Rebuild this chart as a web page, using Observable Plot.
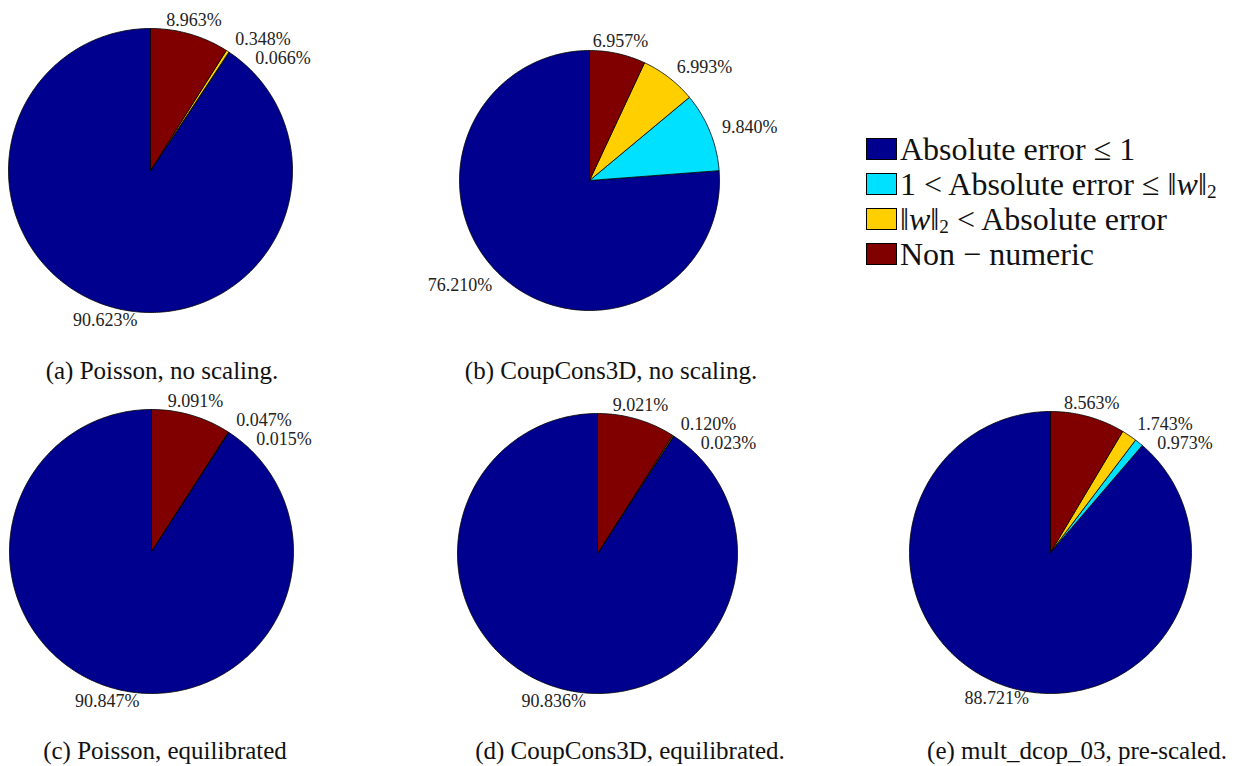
<!DOCTYPE html>
<html><head><meta charset="utf-8">
<script src="https://cdn.jsdelivr.net/npm/d3@7"></script>
<script src="https://cdn.jsdelivr.net/npm/@observablehq/plot@0.6"></script>
<style>
body{margin:0;background:#fff;}
#fig{position:relative;width:1259px;height:766px;overflow:hidden;font-family:"Liberation Serif",serif;color:#111;}
.pie{position:absolute;}
.pie svg{overflow:visible;}
.cap{position:absolute;font-family:"Liberation Serif",serif;font-size:25px;transform:translate(-50%,-50%);white-space:nowrap;}
.legend{position:absolute;left:866px;top:131px;font-family:"Liberation Serif",serif;font-size:32px;line-height:1;}
.legend .row{display:flex;align-items:center;height:35px;white-space:nowrap;}
.legend sub{font-size:60%;line-height:0;vertical-align:-0.15em;}
.sw{width:29px;height:20px;border:1px solid #000;margin-right:3px;flex:none;}
</style></head><body><div id="fig"></div>
<script>
// Categories in legend order (drawn counter-clockwise from 12 o'clock, MATLAB style)
const categories = ["Absolute error ≤ 1", "1 < Absolute error ≤ ‖w‖₂", "‖w‖₂ < Absolute error", "Non − numeric"];
const legendHtml = ["Absolute error ≤ 1", "1 &lt; Absolute error ≤ ‖<i>w</i>‖<sub>2</sub>", "‖<i>w</i>‖<sub>2</sub> &lt; Absolute error", "Non − numeric"];
const colors = ["#00008F", "#00E0FF", "#FFCF00", "#800000"];

// Percentages per panel, in category order
const pieA = [90.623, 0.066, 0.348, 8.963];
const pieB = [76.210, 9.840, 6.993, 6.957];
const pieC = [90.847, 0.015, 0.047, 9.091];
const pieD = [90.836, 0.023, 0.120, 9.021];
const pieE = [88.721, 0.973, 1.743, 8.563];

const captions = ["(a) Poisson, no scaling.", "(b) CoupCons3D, no scaling.", "(c) Poisson, equilibrated", "(d) CoupCons3D, equilibrated.", "(e) mult_dcop_03, pre-scaled."];

// layout (pixels): pie centre, radius, caption centre
const panels = [
  {values: pieA, cx: 150, cy: 170, r: 142, capX: 162, capY: 371},
  {values: pieB, cx: 589, cy: 180, r: 130, capX: 611, capY: 371},
  {values: pieC, cx: 151, cy: 551, r: 142, capX: 165, capY: 751},
  {values: pieD, cx: 597, cy: 553, r: 140, capX: 630, capY: 751},
  {values: pieE, cx: 1050, cy: 552, r: 141, capX: 1077, capY: 751}
];

const fig = document.getElementById("fig");
const fmt = d3.format(".3f");

panels.forEach((p, pi) => {
  const total = d3.sum(p.values);
  const poly = [];
  const labels = [];
  let t0 = Math.PI / 2;
  p.values.forEach((v, i) => {
    const frac = v / total;
    const n = Math.max(2, Math.ceil(frac * 400));
    poly.push({k: i, cat: categories[i], x: 0, y: 0});
    for (let j = 0; j <= n; j++) {
      const t = t0 + frac * 2 * Math.PI * j / n;
      poly.push({k: i, cat: categories[i], x: Math.cos(t), y: Math.sin(t)});
    }
    poly.push({k: i, cat: categories[i], x: 0, y: 0});
    const tm = t0 + frac * Math.PI;
    const c = Math.cos(tm);
    labels.push({
      text: fmt(v) + "%",
      x: 1.1 * Math.cos(tm), y: 1.1 * Math.sin(tm),
      anchor: Math.abs(c) < 0.4 ? "middle" : (c > 0 ? "start" : "end")
    });
    t0 += frac * 2 * Math.PI;
  });
  // simple collision avoidance: walk labels clockwise, push crowded ones down-right
  const px = 1 / p.r;
  const cw = labels.slice().reverse();
  for (let i = 1; i < cw.length; i++) {
    const a = cw[i - 1], b = cw[i];
    const dx = (b.x - a.x) / px, dy = (b.y - a.y) / px;
    if (Math.abs(dy) < 16 && Math.abs(dx) < 50) {
      b.x = a.x + 20 * px;
      b.y = a.y - 19 * px;
    }
  }
  const W = 300, half = (W / 2) * px;
  const textOpts = {x: "x", y: "y", text: "text", fontSize: 18, fontFamily: "Liberation Serif", fill: "#222"};
  const chart = Plot.plot({
    width: W, height: W, margin: 0,
    style: {fontFamily: "Liberation Serif", background: "transparent", overflow: "visible"},
    x: {domain: [-half, half], axis: null},
    y: {domain: [-half, half], axis: null},
    color: {domain: categories, range: colors},
    marks: [
      Plot.line(poly, {x: "x", y: "y", z: "k", fill: "cat", stroke: "black", strokeWidth: 0.8, strokeLinejoin: "round", curve: "linear"}),
      Plot.text(labels.filter(d => d.anchor === "start"), {...textOpts, textAnchor: "start"}),
      Plot.text(labels.filter(d => d.anchor === "middle"), {...textOpts, textAnchor: "middle"}),
      Plot.text(labels.filter(d => d.anchor === "end"), {...textOpts, textAnchor: "end"})
    ]
  });
  const div = document.createElement("div");
  div.className = "pie";
  div.style.left = (p.cx - W / 2) + "px";
  div.style.top = (p.cy - W / 2) + "px";
  div.appendChild(chart);
  fig.appendChild(div);

  const cap = document.createElement("div");
  cap.className = "cap";
  cap.style.left = p.capX + "px";
  cap.style.top = p.capY + "px";
  cap.textContent = captions[pi];
  fig.appendChild(cap);
});

const leg = document.createElement("div");
leg.className = "legend";
categories.forEach((c, i) => {
  const row = document.createElement("div");
  row.className = "row";
  row.innerHTML = `<span class="sw" style="background:${colors[i]}"></span><span>${legendHtml[i]}</span>`;
  leg.appendChild(row);
});
fig.appendChild(leg);
</script></body></html>
